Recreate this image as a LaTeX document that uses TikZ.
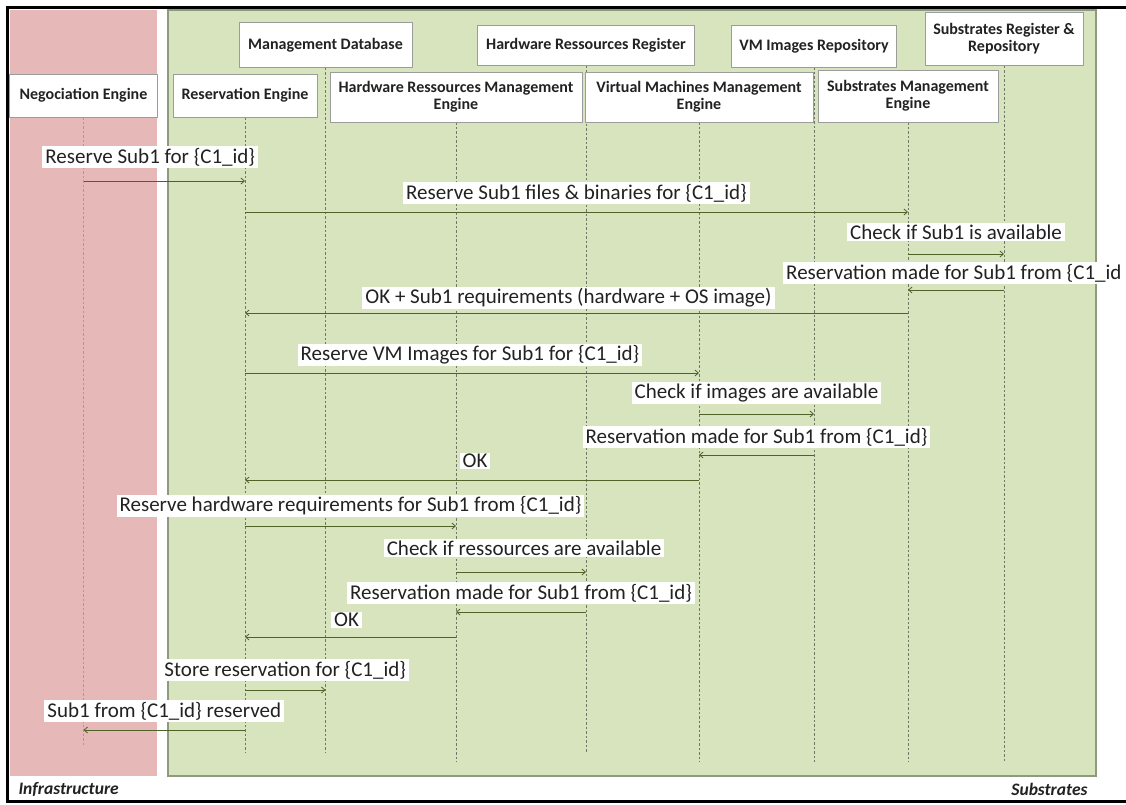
\documentclass[tikz,border=0pt]{standalone}
\usepackage{fontspec}
\setmainfont{Carlito}
\usetikzlibrary{arrows.meta,backgrounds}

\definecolor{infrapink}{HTML}{E6B9B8}
\definecolor{subgreen}{HTML}{D8E4BE}
\definecolor{greenedge}{HTML}{8E9A80}
\definecolor{boxgray}{HTML}{9C9C9C}
\definecolor{msgline}{HTML}{4F6228}
\definecolor{lifegray}{HTML}{6F7866}
\definecolor{lifepink}{HTML}{B79494}
\definecolor{textdark}{HTML}{222222}

\begin{document}
\begin{tikzpicture}[x=1pt,y=-1pt,
  hdr/.style={draw=boxgray, line width=0.8pt, fill=white, align=center,
    inner sep=1pt, text=textdark, font=\bfseries\fontsize{16}{17}\selectfont},
  life/.style={draw=lifegray, line width=0.8pt, dash pattern=on 2.5pt off 2pt},
  msg/.style={draw=msgline, line width=0.8pt, -{Straight Barb[length=3.5pt,width=6pt]}},
  lbl/.style={fill=white, inner xsep=3pt, inner ysep=1.5pt, text=textdark,
    font=\fontsize{21}{22}\selectfont},
  area/.style={text=textdark, font=\bfseries\itshape\fontsize{17.5}{18}\selectfont},
]
\useasboundingbox (0,0) rectangle (1126,804);

% upper row: stores and registers
\node[hdr, minimum width=173pt, minimum height=45pt] (mdb) at (325.5,45) {Management Database};
\node[hdr, minimum width=217pt, minimum height=40pt] (hwr) at (586,45) {Hardware Ressources Register};
\node[hdr, minimum width=165pt, minimum height=42pt] (vmr) at (814,46) {VM Images Repository};
\node[hdr, minimum width=158pt, minimum height=53pt] (srr) at (1004,39) {Substrates Register \&\\Repository};

% lower row: engines
\node[hdr, minimum width=148pt, minimum height=43pt] (neg) at (83.5,95.5) {Negociation Engine};
\node[hdr, minimum width=144pt, minimum height=43pt] (res) at (245,95.5) {Reservation Engine};
\node[hdr, minimum width=252pt, minimum height=50pt] (hwm) at (456,97) {Hardware Ressources Management\\Engine};
\node[hdr, minimum width=228pt, minimum height=50pt] (vmm) at (699,97) {Virtual Machines Management\\Engine};
\node[hdr, minimum width=180pt, minimum height=52pt] (sme) at (908,96) {Substrates Management\\Engine};

% area captions
\node[area, anchor=west] (infra) at (15,789) {Infrastructure};
\node[area, anchor=east] (subs) at (1091,789) {Substrates};

\begin{scope}[on background layer]
  \fill[white] (0,0) rectangle (1126,804);
  \draw[line width=3pt] (1126,7) -- (7,7) -- (7,801) -- (1126,801);
  \fill[infrapink] (10,10) rectangle (157,776);
  \filldraw[fill=subgreen, draw=greenedge, line width=1.3pt] (168,10) rectangle (1096,776);
  % lifelines
  \draw[life, draw=lifepink] (neg.south) -- (neg.south |- 0,745);
  \draw[life] (res.south) -- (res.south |- 0,752);
  \draw[life] (mdb.south) -- (mdb.south |- 0,752);
  \draw[life] (hwm.south) -- (hwm.south |- 0,762);
  \draw[life] (hwr.south) -- (hwr.south |- 0,752);
  \draw[life] (vmm.south) -- (vmm.south |- 0,762);
  \draw[life] (vmr.south) -- (vmr.south |- 0,762);
  \draw[life] (sme.south) -- (sme.south |- 0,762);
  \draw[life] (srr.south) -- (srr.south |- 0,762);
\end{scope}

% messages
\draw[msg] (neg.south |- 0,181) -- (res.south |- 0,181)
  node[lbl, midway, yshift=24pt, xshift=-14pt] {Reserve Sub1 for \{C1\_id\}};
\draw[msg] (res.south |- 0,212) -- (sme.south |- 0,212)
  node[lbl, midway, yshift=19pt] {Reserve Sub1 files \& binaries for \{C1\_id\}};
\draw[msg] (sme.south |- 0,254) -- (srr.south |- 0,254)
  node[lbl, midway, yshift=22pt] {Check if Sub1 is available};
\draw[msg] (srr.south |- 0,290) -- (sme.south |- 0,290);
\node[lbl, anchor=west] (l4) at (783,273) {Reservation made for Sub1 from \{C1\_id};
\draw[msg] (sme.south |- 0,313) -- (res.south |- 0,313)
  node[lbl, midway, yshift=15pt, xshift=-8pt] {OK + Sub1 requirements (hardware + OS image)};
\draw[msg] (res.south |- 0,373) -- (vmm.south |- 0,373)
  node[lbl, midway, yshift=18pt, xshift=-2pt] {Reserve VM Images for Sub1 for \{C1\_id\}};
\draw[msg] (vmm.south |- 0,414) -- (vmr.south |- 0,414)
  node[lbl, midway, yshift=21pt] {Check if images are available};
\draw[msg] (vmr.south |- 0,455) -- (vmm.south |- 0,455)
  node[lbl, midway, yshift=18pt] {Reservation made for Sub1 from \{C1\_id\}};
\draw[msg] (vmm.south |- 0,480) -- (res.south |- 0,480)
  node[lbl, midway, yshift=19pt, xshift=3pt] {OK};
\draw[msg] (res.south |- 0,526) -- (hwm.south |- 0,526)
  node[lbl, midway, yshift=20pt] {Reserve hardware requirements for Sub1 from \{C1\_id\}};
\draw[msg] (hwm.south |- 0,572) -- (hwr.south |- 0,572)
  node[lbl, midway, yshift=24pt, xshift=3pt] {Check if ressources are available};
\draw[msg] (hwr.south |- 0,612) -- (hwm.south |- 0,612)
  node[lbl, midway, yshift=19pt] {Reservation made for Sub1 from \{C1\_id\}};
\draw[msg] (hwm.south |- 0,637) -- (res.south |- 0,637)
  node[lbl, midway, yshift=17pt, xshift=-4pt] {OK};
\draw[msg] (res.south |- 0,690) -- (mdb.south |- 0,690)
  node[lbl, midway, yshift=20pt] {Store reservation for \{C1\_id\}};
\draw[msg] (res.south |- 0,730) -- (neg.south |- 0,730)
  node[lbl, midway, yshift=19pt] {Sub1 from \{C1\_id\} reserved};
\end{tikzpicture}
\end{document}
